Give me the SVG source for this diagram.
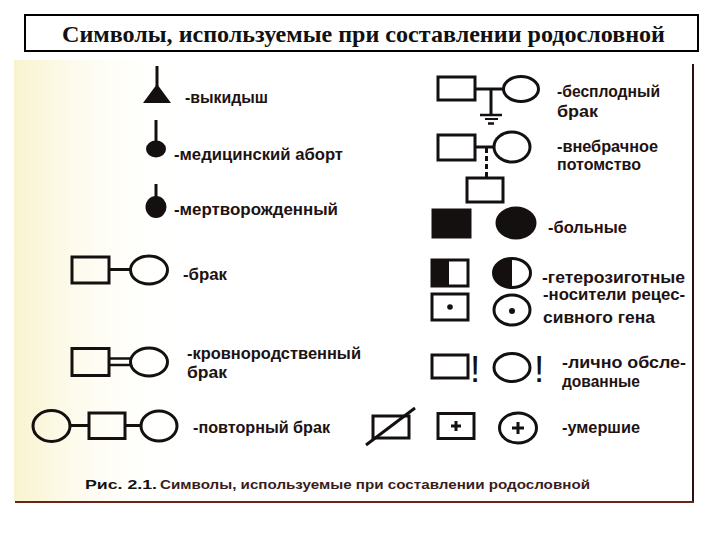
<svg xmlns="http://www.w3.org/2000/svg" width="720" height="540" viewBox="0 0 720 540">
<defs>
<linearGradient id="tint" x1="0" y1="0" x2="1" y2="0">
<stop offset="0" stop-color="#f6efbe" stop-opacity="0.75"/>
<stop offset="0.45" stop-color="#fbf6d8" stop-opacity="0.35"/>
<stop offset="1" stop-color="#ffffff" stop-opacity="0"/>
</linearGradient>
<style>
.s{fill:none;stroke:#141010;stroke-width:3}
.f{fill:#141010;stroke:#141010;stroke-width:3}
.ln{stroke:#141010;stroke-width:3;fill:none}
.lb{font-family:"Liberation Sans",Arial,sans-serif;font-weight:bold;font-size:16px;fill:#1e1212}
.ex{font-family:"Liberation Sans",Arial,sans-serif;font-size:37px;fill:#141010}
</style>
</defs>
<rect width="720" height="540" fill="#ffffff"/>
<rect x="14" y="60" width="170" height="442" fill="url(#tint)"/>

<g id="title">
<rect x="25" y="15" width="673" height="36" fill="#ffffff" stroke="#000" stroke-width="2"/>
<text x="62" y="42" font-family="'Liberation Serif','Times New Roman',serif" font-weight="bold" font-size="23" fill="#111" textLength="603" lengthAdjust="spacingAndGlyphs">Символы, используемые при составлении родословной</text>
</g>

<g id="frame">
<line x1="693" y1="64" x2="693" y2="502" stroke="#2a1010" stroke-width="2"/>
<line x1="15" y1="502" x2="694" y2="502" stroke="#6a2418" stroke-width="2"/>
</g>

<g id="miscarriage">
<line class="ln" x1="157" y1="66" x2="157" y2="86"/>
<polygon points="157,84 143,103 171,103" fill="#141010"/>
<text class="lb" x="185" y="103" textLength="83" lengthAdjust="spacingAndGlyphs">-выкидыш</text>
</g>

<g id="abortion">
<line class="ln" x1="156" y1="120" x2="156" y2="142"/>
<ellipse cx="156" cy="149" rx="10" ry="8.5" fill="#141010"/>
<text class="lb" x="174" y="160" textLength="169" lengthAdjust="spacingAndGlyphs">-медицинский аборт</text>
</g>

<g id="stillborn">
<line class="ln" x1="156" y1="184" x2="156" y2="198"/>
<ellipse cx="156" cy="207" rx="10.5" ry="11" fill="#141010"/>
<text class="lb" x="174" y="215" textLength="164" lengthAdjust="spacingAndGlyphs">-мертворожденный</text>
</g>

<g id="marriage">
<rect class="s" x="72" y="257" width="37" height="26"/>
<ellipse class="s" cx="149" cy="270" rx="18.5" ry="14"/>
<text class="lb" x="183" y="280" textLength="44" lengthAdjust="spacingAndGlyphs">-брак</text>
</g>

<g id="consanguineous">
<rect class="s" x="72" y="348.5" width="37" height="27"/>
<ellipse class="s" cx="149" cy="362" rx="18.5" ry="14"/>
<text class="lb" x="187" y="359" textLength="174" lengthAdjust="spacingAndGlyphs">-кровнородственный</text>
<text class="lb" x="187" y="378" textLength="40" lengthAdjust="spacingAndGlyphs">брак</text>
</g>

<g id="remarriage">
<ellipse class="s" cx="51.5" cy="426" rx="18.5" ry="15.5"/>
<rect class="s" x="89" y="413" width="36" height="25.5"/>
<ellipse class="s" cx="159" cy="426" rx="18" ry="15"/>
<text class="lb" x="193" y="433" textLength="137" lengthAdjust="spacingAndGlyphs">-повторный брак</text>
</g>

<g id="infertile">
<rect class="s" x="438" y="77" width="37" height="23"/>
<ellipse class="s" cx="521" cy="89" rx="17.5" ry="12.5"/>
<line x1="480" y1="115" x2="502" y2="115" stroke="#141010" stroke-width="2.5"/>
<line x1="485" y1="119" x2="498" y2="119" stroke="#141010" stroke-width="2"/>
<line x1="488" y1="123.5" x2="494" y2="123.5" stroke="#141010" stroke-width="2.5"/>
<text class="lb" x="557" y="97" textLength="103" lengthAdjust="spacingAndGlyphs">-бесплодный</text>
<text class="lb" x="557" y="117" textLength="41" lengthAdjust="spacingAndGlyphs">брак</text>
</g>

<g id="extramarital">
<rect class="s" x="438" y="135" width="37" height="25"/>
<ellipse class="s" cx="512" cy="147" rx="18" ry="15"/>
<rect class="s" x="467" y="178" width="36" height="24"/>
<text class="lb" x="557" y="152" textLength="101" lengthAdjust="spacingAndGlyphs">-внебрачное</text>
<text class="lb" x="557" y="170" textLength="84" lengthAdjust="spacingAndGlyphs">потомство</text>
</g>

<g id="affected">
<rect class="f" x="433" y="210" width="37" height="27"/>
<ellipse class="f" cx="516" cy="223" rx="19" ry="15"/>
<text class="lb" x="548" y="233" textLength="79" lengthAdjust="spacingAndGlyphs">-больные</text>
</g>

<g id="heterozygous">
<rect x="432" y="260" width="17" height="26" fill="#141010"/>
<rect class="s" x="432" y="260" width="36" height="26"/>
<path d="M512,258.5 A18.5,14.5 0 0 0 512,287.5 Z" fill="#141010"/>
<ellipse class="s" cx="512" cy="273" rx="18.5" ry="14.5"/>
<text class="lb" x="542" y="283" textLength="143" lengthAdjust="spacingAndGlyphs">-гетерозиготные</text>
</g>

<g id="carriers">
<rect class="s" x="432" y="294" width="36" height="26"/>
<circle cx="450" cy="307" r="2.8" fill="#141010"/>
<ellipse class="s" cx="512" cy="310" rx="18" ry="15"/>
<circle cx="512" cy="311" r="3" fill="#141010"/>
<text class="lb" x="543" y="300" textLength="142" lengthAdjust="spacingAndGlyphs">-носители рецес-</text>
<text class="lb" x="543" y="323" textLength="112" lengthAdjust="spacingAndGlyphs">сивного гена</text>
</g>

<g id="examined">
<rect class="s" x="432" y="355" width="36" height="23"/>
<text class="ex" x="470" y="382">!</text>
<ellipse class="s" cx="512" cy="367.5" rx="18" ry="14"/>
<text class="ex" x="534" y="382">!</text>
<text class="lb" x="562" y="368" textLength="124" lengthAdjust="spacingAndGlyphs">-лично  обсле-</text>
<text class="lb" x="562" y="387" textLength="78" lengthAdjust="spacingAndGlyphs">дованные</text>
</g>

<g id="deceased">
<rect class="s" x="373" y="416" width="36" height="22"/>
<line class="ln" x1="366" y1="445" x2="415" y2="408"/>
<rect class="s" x="438" y="413.5" width="36" height="25"/>
<path class="ln" d="M451,426 H461 M456,421 V431"/>
<ellipse class="s" cx="518" cy="428" rx="18.5" ry="15"/>
<path class="ln" d="M512,428 H524 M518,422 V434"/>
<text class="lb" x="562" y="433" textLength="78" lengthAdjust="spacingAndGlyphs">-умершие</text>
</g>

<g id="connectors">
<line class="ln" x1="109" y1="269.5" x2="130.5" y2="269.5"/>
<line x1="109" y1="358.5" x2="131" y2="358.5" stroke="#141010" stroke-width="2.5"/>
<line x1="109" y1="365" x2="131" y2="365" stroke="#141010" stroke-width="2.5"/>
<line class="ln" x1="70" y1="425.5" x2="89" y2="425.5"/>
<line class="ln" x1="125" y1="425.5" x2="141" y2="425.5"/>
<line class="ln" x1="475" y1="89" x2="503.5" y2="89"/>
<line class="ln" x1="491" y1="89" x2="491" y2="114"/>
<line class="ln" x1="475" y1="147" x2="494" y2="147"/>
<line class="ln" x1="486.5" y1="148" x2="486.5" y2="178" stroke-dasharray="5 3"/>
</g>

<g id="caption">
<text x="85" y="489" font-family="'Liberation Sans',Arial,sans-serif" font-weight="bold" font-size="13" fill="#111" textLength="72" lengthAdjust="spacingAndGlyphs">Рис. 2.1.</text>
<text x="160" y="489" font-family="'Liberation Sans',Arial,sans-serif" font-weight="bold" font-size="13" fill="#3a1c1c" textLength="430" lengthAdjust="spacingAndGlyphs">Символы, используемые при составлении родословной</text>
</g>
</svg>
